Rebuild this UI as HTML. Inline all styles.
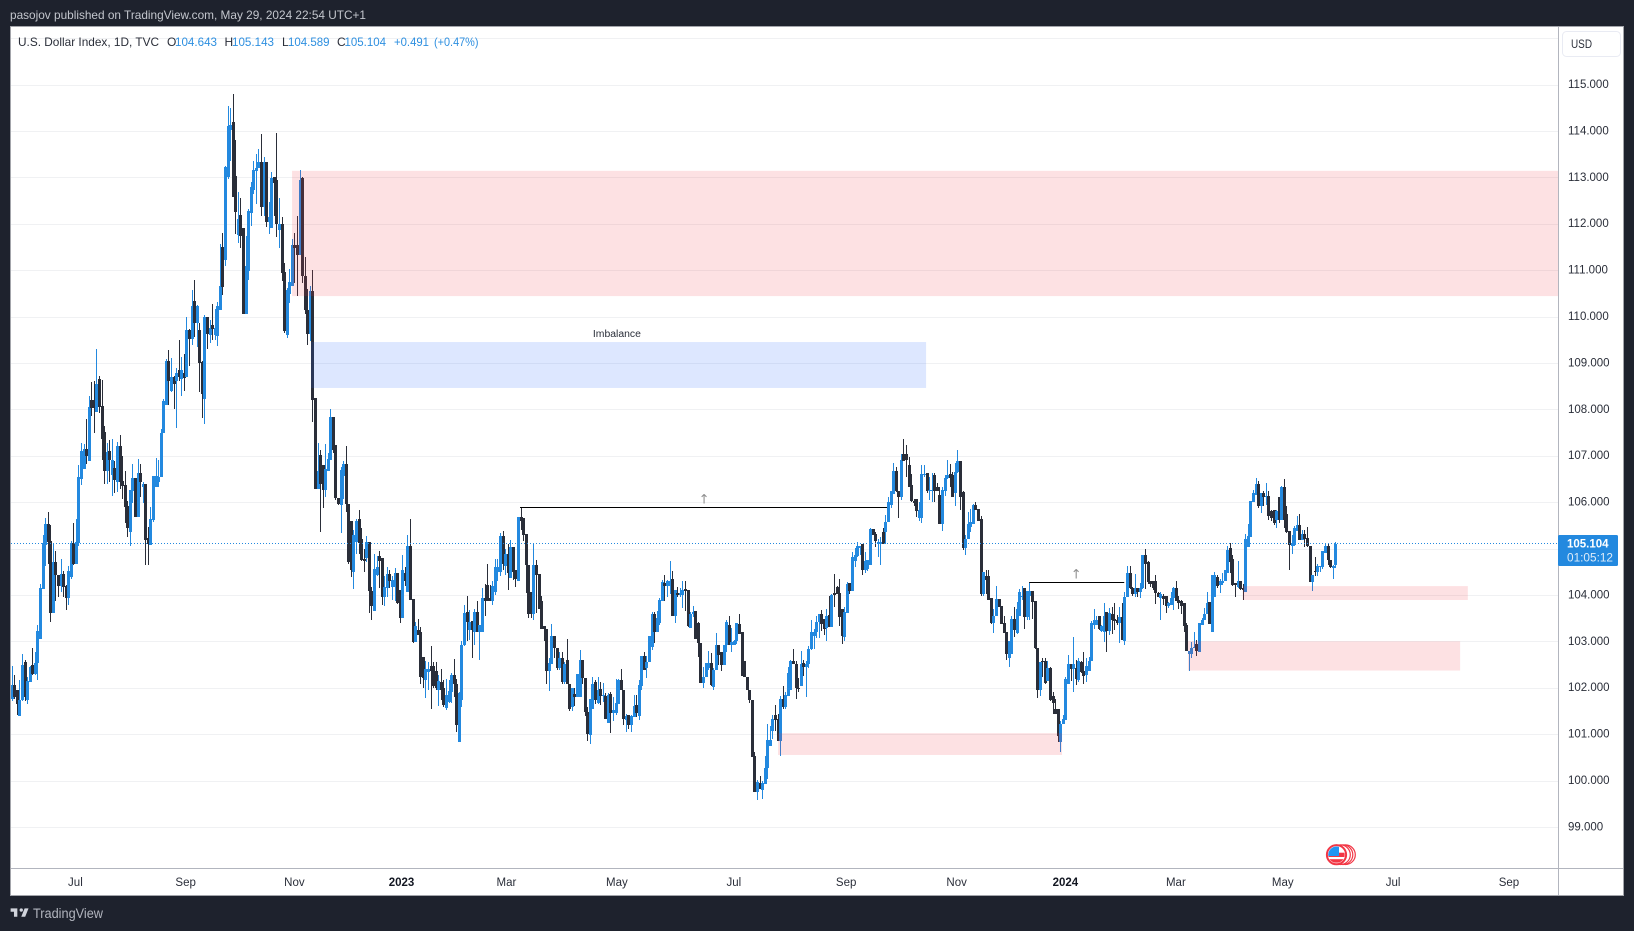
<!DOCTYPE html>
<html lang="en">
<head>
<meta charset="utf-8">
<title>U.S. Dollar Index chart</title>
<style>
html,body{margin:0;padding:0;background:#1e222d;width:1634px;height:931px;overflow:hidden}
svg{display:block}
text{font-family:"Liberation Sans",Arial,sans-serif}
</style>
</head>
<body>
<svg id="chart" xmlns="http://www.w3.org/2000/svg" width="1634" height="931" viewBox="0 0 1634 931">
  <defs>
    <clipPath id="pane-clip"><rect x="11" y="27" width="1547" height="841"/></clipPath>
    <clipPath id="flag-clip"><circle cx="1336.5" cy="854.7" r="8.2"/></clipPath>
  </defs>
  <rect x="0" y="0" width="1634" height="931" fill="#1e222d"/>
  <text x="10" y="19" font-size="12" fill="#c3c6cd" textLength="356" lengthAdjust="spacingAndGlyphs">pasojov published on TradingView.com, May 29, 2024 22:54 UTC+1</text>
  <rect x="10.5" y="26.5" width="1613" height="869" fill="#ffffff" stroke="#a3a5ab" stroke-width="1"/>
  <g id="grid"></g>
  <g id="candles" clip-path="url(#pane-clip)"></g>
  <g id="drawings" clip-path="url(#pane-clip)"></g>
  <line x1="1558.5" y1="27" x2="1558.5" y2="895" stroke="#b2b5be"/>
  <line x1="11" y1="868.5" x2="1623" y2="868.5" stroke="#b2b5be"/>
  <g id="price-axis"></g>
  <g id="time-axis"></g>
  <g>
    <rect x="1562.5" y="31.5" width="58" height="25" rx="4" fill="#ffffff" stroke="#e9ebf3"/>
    <text x="1571" y="48" font-size="11.5" fill="#2a2e39" textLength="21" lengthAdjust="spacingAndGlyphs">USD</text>
  </g>
  <g font-size="12">
    <text x="18" y="46" fill="#2a2e39" textLength="141" lengthAdjust="spacingAndGlyphs">U.S. Dollar Index, 1D, TVC</text>
    <text x="167" y="46" fill="#2a2e39">O</text>
    <text x="175" y="46" fill="#2d8fe0" textLength="42" lengthAdjust="spacingAndGlyphs">104.643</text>
    <text x="224.5" y="46" fill="#2a2e39">H</text>
    <text x="232" y="46" fill="#2d8fe0" textLength="42" lengthAdjust="spacingAndGlyphs">105.143</text>
    <text x="282" y="46" fill="#2a2e39">L</text>
    <text x="288" y="46" fill="#2d8fe0" textLength="41.5" lengthAdjust="spacingAndGlyphs">104.589</text>
    <text x="337" y="46" fill="#2a2e39">C</text>
    <text x="344.5" y="46" fill="#2d8fe0" textLength="41.5" lengthAdjust="spacingAndGlyphs">105.104</text>
    <text x="394" y="46" fill="#2d8fe0" textLength="35" lengthAdjust="spacingAndGlyphs">+0.491</text>
    <text x="434" y="46" fill="#2d8fe0" textLength="44.5" lengthAdjust="spacingAndGlyphs">(+0.47%)</text>
  </g>
  <g>
    <circle cx="1345.5" cy="854.7" r="9.8" fill="#fff" stroke="#f23645" stroke-width="1.2"/>
    <circle cx="1343" cy="854.7" r="9.8" fill="#fff" stroke="#f23645" stroke-width="1.2"/>
    <circle cx="1340.5" cy="854.7" r="9.8" fill="#fff" stroke="#f23645" stroke-width="1.2"/>
    <circle cx="1336.5" cy="854.7" r="9.6" fill="#fff" stroke="#f23645" stroke-width="2"/>
    <g clip-path="url(#flag-clip)">
      <rect x="1328" y="852.7" width="17" height="4.3" fill="#f23645"/>
      <rect x="1328" y="859.2" width="17" height="3.5" fill="#f23645"/>
      <rect x="1328" y="846" width="11" height="10" fill="#2196f3"/>
    </g>
  </g>
  <g>
    <path transform="translate(9.5 905) scale(.56)" fill="#d1d4dc" d="M14 6H2v6h6v9h6V6zm14 15h-7l6-15h7l-6 15zm-7-9a3 3 0 1 0 0-6 3 3 0 0 0 0 6z"/>
    <text x="33" y="918" font-size="13.5" fill="#b2b5be" textLength="70" lengthAdjust="spacingAndGlyphs">TradingView</text>
  </g>
</svg>
<script>
const opens = [
101.76,102.05,101.95,101.40,101.74,102.55,101.73,102.12,102.48,102.29,
102.53,103.04,104.12,105.07,105.53,105.16,103.61,104.71,104.42,104.19,
104.45,104.19,103.94,104.39,105.11,104.66,105.11,106.49,106.71,107.14,
106.88,108.20,108.20,107.94,108.66,108.07,107.52,106.68,107.10,106.58,
106.73,106.44,107.21,106.45,106.36,105.91,105.36,106.24,106.52,105.68,
106.62,106.33,106.39,105.22,105.07,105.61,106.33,106.44,106.55,107.48,
108.09,109.05,108.40,108.70,108.60,108.84,108.66,108.78,108.70,109.70,
109.52,110.33,109.85,109.70,109.02,108.22,110.00,109.60,109.81,109.60,
109.58,110.14,111.49,111.21,113.00,114.01,114.19,113.02,111.75,112.18,
111.90,110.05,110.99,112.23,112.72,113.13,113.21,113.33,112.37,113.33,
112.04,111.91,113.00,112.94,111.87,111.99,110.96,109.60,110.48,110.65,
111.54,111.54,111.32,112.98,110.87,110.14,109.62,110.55,108.24,106.28,
107.01,106.80,106.26,106.68,106.91,107.83,107.23,106.08,105.94,106.56,
106.82,105.96,105.59,104.50,105.13,105.63,105.20,104.78,104.79,105.14,
104.08,103.65,104.43,104.84,104.79,103.95,104.14,104.45,104.18,104.18,
104.48,104.10,103.50,104.47,104.07,105.06,103.92,102.99,103.24,103.20,
102.67,102.17,102.34,102.47,102.47,102.37,101.96,102.13,102.00,101.57,
101.69,101.91,102.27,102.09,100.83,101.73,102.91,103.63,103.24,103.44,
103.21,103.63,103.21,103.21,103.93,104.21,103.93,103.86,104.07,104.50,
104.50,105.27,104.63,104.88,104.37,105.04,104.54,104.29,105.68,105.66,
105.31,104.65,104.06,103.59,104.65,104.45,103.87,103.34,103.27,102.35,
102.51,103.11,102.85,102.42,102.65,102.13,102.60,102.09,101.58,101.86,
101.81,101.81,102.60,102.20,101.48,100.98,101.55,102.13,101.66,101.98,
101.82,101.82,101.24,101.86,101.46,101.46,101.65,102.16,101.96,101.30,
101.41,101.19,101.37,101.63,101.40,102.04,102.68,102.43,102.56,102.88,
103.59,103.19,103.39,103.86,104.25,104.20,104.20,104.34,103.55,
104.04,104.00,104.00,104.12,104.11,103.28,103.59,103.65,103.39,102.96,
102.11,102.24,102.43,102.54,102.02,102.38,102.92,102.76,102.49,102.91,
103.35,102.92,102.92,103.00,103.37,103.19,102.58,102.24,101.96,101.73,
100.53,99.76,99.94,99.80,99.92,100.27,100.75,101.07,101.42,101.32,
100.86,101.76,101.59,101.83,101.94,102.58,102.52,102.00,102.03,102.53,
102.45,102.51,102.83,103.12,103.19,103.41,103.58,103.48,103.29,103.57,
103.30,104.05,104.18,104.04,103.70,103.09,103.61,104.26,104.09,104.73,
104.83,105.02,105.09,104.54,104.56,104.65,105.41,105.32,105.09,105.09,
105.35,105.35,105.57,105.93,106.18,106.66,106.25,106.11,107.03,107.03,
106.79,106.36,106.02,106.07,105.66,105.66,106.60,106.63,106.24,106.25,106.58,
106.32,106.16,105.52,106.25,106.53,106.60,106.58,106.20,106.65,106.88,
106.22,105.02,105.21,105.46,105.53,105.93,105.86,105.64,104.02,104.40,
104.40,103.93,103.40,103.54,103.91,103.76,103.40,103.19,102.63,102.73,
103.48,103.17,103.55,103.95,104.15,103.52,103.97,104.09,103.86,102.86,
101.94,102.58,102.58,102.14,102.42,101.82,101.54,101.55,100.83,101.22,
101.31,102.08,102.51,102.40,102.42,102.17,102.55,102.35,102.27,102.35,
102.58,103.35,103.35,103.55,103.23,103.21,103.63,103.23,103.59,103.47,
103.46,103.39,103.52,103.00,103.96,104.47,104.14,104.02,104.14,104.06,
104.14,104.86,104.70,104.31,104.29,104.31,104.05,103.94,103.98,103.98,
103.76,103.79,103.93,104.14,103.89,103.86,103.82,103.35,102.73,102.73,
102.85,102.94,102.76,103.35,103.46,103.58,103.84,103.21,103.96,104.38,
104.22,104.25,104.29,104.47,105.01,104.77,104.25,104.18,104.31,104.14,
104.07,105.04,105.24,106.01,106.16,106.40,105.92,106.19,106.11,106.14,
105.80,105.83,105.62,106.11,105.62,106.32,105.75,105.37,105.06,105.08,
105.37,105.50,105.19,105.32,105.22,105.06,104.28,104.52,104.50,104.60,
104.60,104.91,105.06,104.76,104.57,104.643];
const highs = [
102.46,102.27,101.95,102.16,102.73,102.60,102.22,102.47,102.85,102.78,
103.36,104.23,105.29,105.65,105.78,105.50,105.11,104.94,104.42,104.77,
104.51,104.21,104.62,105.16,105.54,105.63,106.80,107.27,107.25,107.79,
108.29,108.58,108.60,109.29,108.72,108.63,107.64,107.27,107.34,107.35,
106.88,107.29,107.45,106.99,106.67,106.02,106.26,106.82,106.52,106.93,
106.82,106.44,106.40,105.47,105.89,106.56,106.94,106.91,107.57,108.22,
109.08,109.27,109.11,108.72,108.88,109.49,109.13,109.20,110.00,109.72,
110.57,110.78,110.24,109.86,109.05,110.03,110.00,109.92,110.27,110.17,
110.32,111.57,111.81,113.24,114.53,114.49,114.79,113.80,112.69,112.55,
111.90,111.74,112.31,112.90,113.35,113.50,113.60,113.93,113.43,113.33,
112.46,113.11,113.01,113.95,112.55,112.14,111.15,110.62,111.03,111.67,
111.79,112.16,113.15,113.01,111.29,110.60,110.66,111.00,108.24,107.27,
107.12,106.80,107.25,107.05,108.00,107.83,107.23,106.08,106.75,106.88,
107.21,105.96,105.59,105.40,105.63,105.83,105.44,105.00,105.26,105.14,
104.18,104.88,104.83,104.95,104.79,104.40,104.61,104.54,104.40,104.58,
104.48,104.10,104.86,104.60,105.30,105.64,103.92,103.42,103.47,103.30,
102.67,102.58,102.56,102.90,102.56,102.55,102.27,102.40,102.16,102.19,
102.16,102.31,102.62,102.18,101.91,103.01,103.78,103.98,103.68,103.44,
103.69,103.86,103.35,104.14,104.24,104.67,104.22,104.29,104.77,104.77,
105.33,105.38,105.00,105.10,105.19,105.04,104.54,105.67,105.89,105.66,
105.31,104.65,104.06,105.12,104.76,104.45,103.98,103.34,103.27,102.65,
103.37,103.11,102.85,102.78,102.78,102.56,103.06,102.09,101.99,101.99,
102.29,102.81,102.60,102.20,101.59,101.76,102.24,102.16,102.24,102.13,
102.10,101.88,101.88,101.91,101.80,102.18,102.18,102.40,101.96,101.43,
101.41,101.41,101.84,101.84,102.17,102.68,102.76,102.68,103.11,103.63,
103.63,103.66,103.93,104.32,104.43,104.32,104.73,104.52,104.10,
104.18,104.15,104.29,104.29,104.11,103.64,103.76,103.65,103.42,102.96,
102.45,102.54,102.79,102.74,102.42,103.17,102.92,102.76,102.92,103.46,
103.55,103.28,103.03,103.39,103.59,103.21,102.58,102.24,101.96,101.73,
100.62,100.02,100.10,100.00,100.53,101.22,101.18,101.42,101.63,101.43,
101.83,102.04,101.90,102.44,102.60,102.83,102.58,102.20,102.80,102.60,
102.58,102.90,103.45,103.27,103.55,103.59,103.68,103.48,103.70,103.98,
104.02,104.44,104.20,104.34,103.70,103.73,104.27,104.26,104.92,105.02,
105.14,105.06,105.09,104.92,104.76,105.44,105.41,105.35,105.21,105.24,
105.44,105.73,106.11,106.25,106.84,106.76,106.25,107.03,107.35,107.24,
106.97,106.60,106.07,106.07,106.00,106.79,106.79,106.63,106.54,106.63,106.63,
106.41,106.32,106.32,106.58,106.90,106.83,106.65,106.85,107.12,106.88,
106.23,105.30,105.78,105.86,105.96,106.01,105.86,105.71,104.49,104.54,
104.54,103.93,103.70,104.20,103.91,103.76,103.55,103.19,103.01,103.55,
103.73,103.84,104.13,104.20,104.15,104.09,104.25,104.09,103.86,102.86,
102.55,102.63,102.63,102.58,102.45,101.90,101.75,101.55,101.29,101.42,
102.22,102.71,102.51,103.10,102.60,102.64,102.58,102.76,102.65,102.67,
103.44,103.70,103.55,103.55,103.35,103.82,103.63,103.71,103.75,103.82,
103.57,103.73,103.82,104.07,104.62,104.62,104.16,104.45,104.14,104.25,
104.86,104.99,104.72,104.31,104.29,104.43,104.07,104.07,104.02,103.98,
103.85,104.07,104.18,104.29,103.98,103.89,103.82,103.39,102.80,102.99,
103.19,103.03,103.39,103.50,103.71,104.07,103.84,104.43,104.50,104.43,
104.34,104.47,104.54,105.06,105.12,104.86,104.25,104.72,104.31,104.24,
105.32,105.53,106.03,106.27,106.52,106.46,106.19,106.23,106.41,106.25,
105.83,105.83,105.83,106.11,106.35,106.50,105.92,105.37,105.29,105.49,
105.69,105.74,105.40,105.39,105.47,105.06,104.43,104.81,104.67,104.63,
104.94,105.12,105.12,104.76,104.64,105.143];
const lows = [
101.72,101.76,101.42,101.40,101.72,101.72,101.64,102.12,102.27,102.27,
102.16,103.04,104.12,104.62,104.66,103.41,103.61,103.86,103.96,104.06,
103.96,103.67,103.78,104.35,104.64,104.66,105.06,106.37,106.71,106.82,
106.88,107.86,107.50,107.94,107.93,106.91,106.40,106.39,106.44,106.13,
106.20,106.22,106.29,106.06,105.55,105.25,105.06,105.97,105.68,105.68,
106.12,105.97,104.64,104.64,105.07,105.58,106.33,106.33,106.55,107.48,
108.09,108.09,108.38,108.00,107.60,108.62,108.29,108.40,108.70,108.94,
109.38,109.55,109.35,108.38,107.82,107.68,109.29,109.42,109.49,109.49,
109.36,110.14,110.46,111.09,112.97,113.35,112.58,111.77,111.59,111.48,
110.05,110.05,110.78,111.96,112.64,112.42,113.21,112.16,112.16,111.93,
111.77,111.91,112.16,111.72,111.48,110.77,109.65,109.54,110.30,110.65,
110.73,110.44,111.32,110.73,110.06,109.38,109.47,107.73,106.28,106.28,
105.35,105.87,106.11,106.68,106.91,107.05,106.04,105.93,105.34,106.07,
105.79,104.66,104.39,104.12,104.89,104.88,104.74,104.50,104.70,103.60,
103.46,103.65,104.40,104.14,103.78,103.76,103.96,104.14,103.89,103.86,
103.80,103.40,103.50,104.20,104.07,103.88,102.96,102.99,103.14,102.08,
102.00,101.77,101.95,101.54,101.99,101.95,101.60,101.73,101.59,101.52,
101.67,101.67,101.81,101.05,100.83,101.58,102.90,103.01,103.03,102.65,
102.91,103.21,102.60,103.19,103.55,103.86,103.86,103.78,104.00,104.29,
104.41,104.54,104.43,104.11,104.37,104.32,104.17,104.29,105.39,105.17,
104.04,103.50,103.50,103.46,103.60,103.69,103.27,103.01,102.08,101.93,
102.51,102.63,102.38,102.38,102.08,102.09,102.09,101.50,101.50,101.60,
101.81,101.81,102.08,101.40,100.86,100.78,101.55,101.65,101.65,101.62,
101.70,101.33,101.23,101.03,101.29,101.41,101.65,101.96,101.19,101.05,
101.10,101.05,101.37,101.37,101.30,101.95,102.38,102.20,102.56,102.81,
102.97,103.19,103.35,103.86,103.86,103.96,104.03,103.55,103.39,
103.96,103.95,103.72,103.66,103.30,103.28,103.53,103.04,102.67,102.11,
102.00,102.24,102.38,102.04,101.94,102.38,102.49,102.35,102.49,102.76,
102.92,102.76,102.92,102.95,103.16,102.26,102.24,101.96,101.66,100.51,
99.76,99.58,99.81,99.60,99.92,100.03,100.75,100.89,101.07,100.86,
100.53,101.54,101.54,101.83,101.94,102.51,101.76,101.90,102.03,102.26,
101.79,102.42,102.82,102.83,103.07,103.07,103.23,103.14,103.01,103.30,
103.30,103.73,104.02,103.34,102.94,103.01,103.61,104.02,104.09,104.60,
104.81,104.85,104.42,104.47,104.52,104.65,105.30,105.03,104.81,104.65,
105.10,105.10,105.57,105.88,106.18,106.22,105.66,106.05,106.88,106.54,
106.32,106.00,105.92,105.68,105.60,105.55,106.55,106.19,106.04,106.00,106.00,
106.24,105.52,105.38,106.14,106.50,106.32,106.11,105.91,106.63,105.82,
104.96,104.85,105.21,105.35,105.53,105.82,105.59,103.98,103.98,104.02,
103.90,103.37,103.17,103.54,103.73,103.37,103.17,102.60,102.45,102.73,
103.10,103.16,103.55,103.88,103.27,103.45,103.45,103.48,102.83,101.77,
101.83,102.22,102.08,102.14,101.72,101.43,101.43,100.82,100.62,101.22,
101.31,102.08,102.15,101.90,102.06,102.12,102.31,102.08,102.12,102.35,
102.58,103.26,103.35,103.24,103.19,102.99,102.78,103.14,103.16,103.24,
103.35,102.96,103.03,102.93,103.96,104.12,103.98,103.95,103.95,103.93,
104.12,104.12,104.24,104.18,104.11,103.81,103.95,103.45,103.78,103.62,
103.71,103.79,103.68,103.86,103.69,103.59,103.21,102.79,102.37,102.63,
102.85,102.68,102.76,103.35,103.46,103.58,103.37,103.21,103.96,104.14,
104.04,104.22,104.29,104.47,104.47,104.19,103.95,104.14,104.11,103.90,
104.07,105.03,105.24,106.01,106.16,105.87,105.76,105.91,105.94,105.62,
105.60,105.51,105.44,105.55,105.62,105.44,105.33,104.54,104.88,105.06,
105.37,105.19,105.19,105.04,105.03,104.28,104.09,104.41,104.41,104.50,
104.55,104.91,104.65,104.58,104.35,104.589];
const closes = [
102.05,101.81,101.64,101.74,102.50,101.81,102.14,102.44,102.29,102.53,
103.22,104.14,105.11,105.53,105.14,103.61,104.71,104.42,104.19,104.45,
104.17,103.94,104.51,105.11,104.66,105.13,106.54,107.10,107.14,106.99,
108.04,108.02,108.02,108.55,108.06,107.35,106.68,107.09,106.91,106.91,
106.47,107.21,106.44,106.35,105.90,105.45,106.26,106.52,105.68,106.62,
106.44,106.40,105.18,105.09,105.63,106.56,106.56,106.55,107.48,108.18,
109.05,108.60,108.70,108.55,108.79,108.70,108.84,108.68,109.70,109.52,
110.22,109.85,110.22,109.00,108.33,110.00,109.63,109.75,109.74,109.76,
110.22,110.65,110.64,113.22,114.10,114.12,112.58,112.26,112.11,111.74,
110.05,111.08,112.27,112.79,113.15,113.21,113.33,112.37,113.33,112.04,
112.15,112.99,112.88,112.00,111.99,110.94,109.69,110.58,110.75,111.54,
111.48,111.32,112.94,110.87,110.15,109.62,110.55,108.20,106.28,106.67,
106.39,106.26,106.71,106.92,107.83,107.12,106.08,105.95,106.70,106.82,
105.95,104.71,104.53,105.29,105.59,105.11,104.76,104.72,105.14,104.08,
103.76,104.56,104.60,104.72,103.95,104.17,104.45,104.31,104.32,104.48,
103.83,103.51,104.54,104.30,105.06,103.88,102.99,103.32,103.14,102.24,
102.20,102.41,102.40,102.37,102.04,101.99,102.14,101.96,101.63,101.84,
101.93,102.27,102.09,101.19,101.89,102.92,103.60,103.42,103.42,103.24,
103.63,103.21,103.35,103.93,103.86,103.86,103.86,104.19,104.60,104.60,
105.27,104.67,104.88,104.48,105.04,104.50,104.35,105.67,105.60,105.29,
104.65,103.59,103.59,104.65,104.43,103.69,103.27,103.27,102.35,102.54,
103.11,102.85,102.43,102.65,102.12,102.51,102.09,101.55,101.99,101.81,
102.29,102.60,102.20,101.48,101.00,101.76,102.09,101.73,101.96,101.82,
101.84,101.33,101.84,101.46,101.52,101.66,102.16,101.96,101.33,101.38,
101.19,101.39,101.60,101.46,102.06,102.68,102.39,102.56,103.11,103.59,
103.19,103.50,103.89,104.27,104.20,104.29,104.29,103.55,104.10,
104.00,104.05,104.11,104.09,103.34,103.59,103.64,103.04,102.96,102.11,
102.24,102.54,102.54,102.06,102.39,102.92,102.71,102.49,102.92,103.42,
102.92,102.99,103.01,103.39,103.16,102.26,102.24,101.96,101.73,100.51,
99.76,99.97,99.81,99.95,100.28,100.88,100.88,101.32,101.30,100.86,
101.76,101.59,101.84,102.31,102.58,102.51,101.99,101.97,102.51,102.45,
102.51,102.83,103.19,103.21,103.42,103.58,103.37,103.27,103.55,103.30,
103.99,103.99,104.02,103.52,103.12,103.63,104.24,104.09,104.81,104.85,
105.06,105.06,104.54,104.73,104.76,105.42,105.30,105.17,105.15,105.15,
105.10,105.58,106.00,106.24,106.66,106.23,106.11,106.90,106.88,106.90,
106.32,106.02,105.98,105.80,105.82,106.60,106.61,106.24,106.26,106.27,106.24,
106.24,105.52,106.27,106.53,106.58,106.53,106.11,106.65,106.88,106.11,
105.02,105.21,105.53,105.58,105.93,105.84,105.60,104.02,104.49,104.33,
103.90,103.40,103.55,103.91,103.75,103.37,103.17,102.73,103.01,103.48,
103.25,103.70,104.07,103.98,103.52,104.09,104.09,103.84,102.85,101.94,
102.55,102.55,102.11,102.42,101.73,101.68,101.43,100.96,101.22,101.32,
102.19,102.51,102.40,102.51,102.19,102.57,102.33,102.26,102.47,102.58,
103.39,103.46,103.46,103.26,103.33,103.55,103.23,103.62,103.46,103.43,
103.39,103.52,103.03,103.96,104.47,104.14,104.02,104.14,104.06,104.14,
104.86,104.67,104.27,104.24,104.14,104.05,103.96,104.01,103.92,103.76,
103.83,103.93,104.14,103.86,103.82,103.76,103.34,102.79,102.80,102.85,
102.88,102.80,103.39,103.46,103.59,103.82,103.37,104.43,104.43,104.19,
104.31,104.31,104.54,104.97,104.70,104.22,104.22,104.31,104.12,104.11,
105.20,105.26,106.03,106.19,106.40,105.92,106.19,106.12,106.14,105.69,
105.65,105.56,105.80,105.62,106.32,105.62,105.35,105.08,105.12,105.44,
105.50,105.19,105.32,105.20,105.06,104.28,104.43,104.50,104.63,104.63,
104.94,105.06,104.76,104.60,104.63,105.104];

const gridPrices = [116,115,114,113,112,111,110,109,108,107,106,105,104,103,102,101,100,99];
const priceTickValues = [115,114,113,112,111,110,109,108,107,106,105,104,103,102,101,100,99];
const timeTickLabels = ['Jul','Sep','Nov','2023','Mar','May','Jul','Sep','Nov','2024','Mar','May','Jul','Sep'];
const timeTickBars = [24.8,67.7,110,151.7,192.5,235.5,281,324.7,367.7,410,453,494.6,537.5,582.6];

// Drawing anchors, in (bar index, price) chart coordinates.
const redZoneNames = ['supply-zone-upper','demand-zone-2023','demand-zone-april-2024','demand-zone-march-2024'];
const redZoneStartBars = [109.1,298.2,479,457.7];
const redZoneEndBars = [700,408.7,566.6,563.6];
const redZoneTops = [113.14,101.02,104.19,103.0];
const redZoneBottoms = [110.44,100.55,103.89,102.37];
const trendStartBars = [197.8,395.9];
const trendEndBars = [340.6,432.9];
const trendPrices = [105.89,104.27];
const arrowBars = [269.4,414.2];
const arrowPrices = [106.08,104.46];

const NS = 'http://www.w3.org/2000/svg';
const yOf = function (price) { return 84.5 + (115 - price) * 46.4; };
const xOf = function (bar) { return 11.67 + bar * 2.57; };
const make = function (tag, attrs, parent) {
  const el = document.createElementNS(NS, tag);
  for (const k in attrs) el.setAttribute(k, attrs[k]);
  parent.appendChild(el);
  return el;
};

const gridG = document.getElementById('grid');
gridPrices.forEach(function (p) {
  const y = Math.round(yOf(p)) + 0.5;
  const el = make('line', {x1: 11, x2: 1558, y1: y, y2: y, stroke: '#f0f1f3'}, gridG);
  
  
});

const candleG = document.getElementById('candles');
closes.forEach(function (c, i) {
  const o = opens[i];
  const color = c >= o ? '#2389df' : '#2a2e39';
  const cx = Math.round(xOf(i));
  const g = make('g', {fill: color, 'shape-rendering': 'crispEdges'}, candleG);
  
  
  const yH = Math.round(yOf(highs[i]));
  const yL = Math.round(yOf(lows[i]));
  make('rect', {x: cx, y: yH, width: 1, height: Math.max(1, yL - yH)}, g);
  const yT = Math.round(yOf(Math.max(o, c)));
  const yB = Math.round(yOf(Math.min(o, c)));
  make('rect', {x: cx - 1, y: yT, width: 3, height: Math.max(1, yB - yT)}, g);
});

const drawG = document.getElementById('drawings');
redZoneTops.forEach(function (top, i) {
  const x = xOf(redZoneStartBars[i]);
  const el = make('rect', {x: x, y: yOf(top), width: xOf(redZoneEndBars[i]) - x, height: yOf(redZoneBottoms[i]) - yOf(top), fill: 'rgba(242,54,69,.15)'}, drawG);
  
  
});

const imbalanceStartBar = 116.5;
const imbalanceEndBar = 355.8;
const imbalanceTop = 109.45;
const imbalanceBottom = 108.46;
const imbalanceLabelBar = 235.5;
const imbalanceLabelPrice = 109.63;
const imbalance = make('rect', {x: xOf(imbalanceStartBar), y: yOf(imbalanceTop), width: xOf(imbalanceEndBar) - xOf(imbalanceStartBar), height: yOf(imbalanceBottom) - yOf(imbalanceTop), fill: 'rgba(41,108,255,.16)'}, drawG);


const imbalanceText = make('text', {x: xOf(imbalanceLabelBar), y: yOf(imbalanceLabelPrice) + 3.5, 'text-anchor': 'middle', 'font-size': 10, fill: '#2a2e39', textLength: 48, lengthAdjust: 'spacingAndGlyphs'}, drawG);
imbalanceText.textContent = 'Imbalance';



trendPrices.forEach(function (p, i) {
  const y = Math.round(yOf(p)) + 0.5;
  const el = make('line', {x1: xOf(trendStartBars[i]), x2: xOf(trendEndBars[i]), y1: y, y2: y, stroke: '#000000'}, drawG);
  
  
});
arrowPrices.forEach(function (p, i) {
  const el = make('text', {x: xOf(arrowBars[i]), y: yOf(p) + 5, 'text-anchor': 'middle', 'font-size': 13, fill: '#8f8f8f', style: 'font-family:"DejaVu Sans",sans-serif'}, drawG);
  el.textContent = '↑';
  
  
});

const lastClose = closes[closes.length - 1];
const lastY = Math.floor(yOf(lastClose)) + 0.5;
const priceLine = make('line', {x1: 11, x2: 1558, y1: lastY, y2: lastY, stroke: '#2389df', 'stroke-dasharray': '1 2'}, drawG);



const priceAxis = document.getElementById('price-axis');
priceTickValues.forEach(function (p) {
  const el = make('text', {x: 1568, y: yOf(p) + 3.5, 'font-size': 11.5, fill: '#2a2e39'}, priceAxis);
  el.textContent = p.toFixed(3);
  
  
});

const lastTag = make('g', {}, priceAxis);


make('rect', {x: 1558, y: lastY - 8.5, width: 60, height: 31, rx: 1.5, fill: '#2389df'}, lastTag);
const tagPrice = make('text', {x: 1567, y: lastY + 4, 'font-size': 11.5, 'font-weight': 'bold', fill: '#ffffff'}, lastTag);
tagPrice.textContent = lastClose.toFixed(3);


const tagTimer = make('text', {x: 1567, y: lastY + 18, 'font-size': 11.5, fill: '#dcebf9', textLength: 46, lengthAdjust: 'spacingAndGlyphs'}, lastTag);
tagTimer.textContent = '01:05:12';



const timeAxis = document.getElementById('time-axis');
timeTickLabels.forEach(function (label, i) {
  const isYear = label.length === 4;
  const el = make('text', {x: xOf(timeTickBars[i]), y: 886, 'text-anchor': 'middle', 'font-size': 11.5, fill: isYear ? '#131722' : '#2a2e39', 'font-weight': isYear ? 'bold' : 'normal'}, timeAxis);
  el.textContent = label;
  
  
});
</script>
</body>
</html>
